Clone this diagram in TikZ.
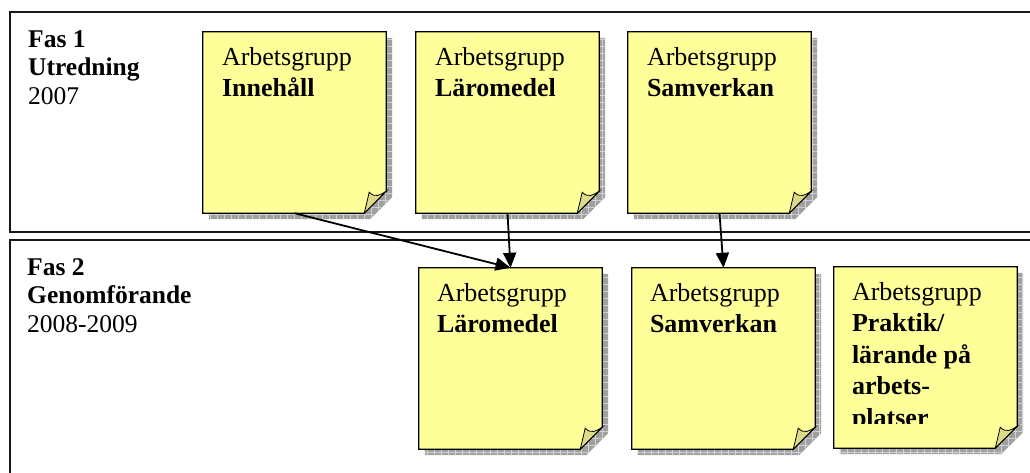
\documentclass[tikz,border=0pt]{standalone}
\usepackage{fontspec}
\setmainfont{Liberation Serif}
\usetikzlibrary{calc,arrows.meta,patterns.meta}
\definecolor{noteyellow}{RGB}{255,255,153}
\definecolor{flapcol}{RGB}{221,219,137}
\definecolor{shadowcol}{RGB}{160,160,160}
\definecolor{gridcol}{RGB}{210,210,210}
\tikzset{
  phasebox/.style={draw=black!90, line width=2pt},
  phasetext/.style={anchor=north west, inner sep=0pt, align=left, font=\fontsize{25.5}{28.5}\selectfont},
  notearea/.style={rectangle, minimum width=183pt, minimum height=181pt, inner sep=0pt, draw=none},
  notebody/.style={draw=black, fill=noteyellow, line width=1.2pt, line join=miter},
  noteflap/.style={draw=black, fill=flapcol, line width=0.8pt},
  shadowfill/.style={fill=shadowcol},
  shadowgrid/.style={pattern={Hatch[angle=0,distance=7pt,line width=0.8pt]}, pattern color=gridcol},
  notetext/.style={anchor=north west, inner sep=0pt, align=left, font=\fontsize{26}{31.5}\selectfont},
  conn/.style={draw=black, line width=1.8pt, -{Triangle[length=15pt,width=13pt]}}
}
\newcommand\shadowshape[1]{let \p1=(#1.north west), \p2=(#1.south east) in
  (\x1+6pt,\y1-6pt) -- (\x2+6pt,\y1-6pt) -- (\x2+6pt,\y2+16pt) -- (\x2-16pt,\y2-6pt) -- (\x1+6pt,\y2-6pt) -- cycle}
\newcommand\stickynote[1]{%
  \path[shadowfill] \shadowshape{#1};
  \path[shadowgrid] \shadowshape{#1};
  \path[notebody] let \p1=(#1.north west), \p2=(#1.south east) in
    (\x1,\y1) -- (\x2,\y1) -- (\x2,\y2+22pt) -- (\x2-22pt,\y2) -- (\x1,\y2) -- cycle;
  \path[noteflap] let \p2=(#1.south east) in
    (\x2-22pt,\y2) .. controls (\x2-20pt,\y2+8pt) .. (\x2-17pt,\y2+21pt)
    .. controls (\x2-11pt,\y2+15pt) and (\x2-6pt,\y2+18pt) .. (\x2,\y2+22pt) -- cycle;
}
\begin{document}
\begin{tikzpicture}[x=1pt,y=-1pt]
\useasboundingbox (0,0) rectangle (1030,473);
\clip (0,0) rectangle (1030,473);
% phase boxes
\draw[phasebox] (10,12) rectangle (1045,232);
\draw[phasebox] (10,240) rectangle (1045,490);
\node[phasetext] (f1) at (28,27) {\strut\textbf{Fas 1}\\\textbf{Utredning}\\2007};
\node[phasetext] (f2) at (27,255) {\strut\textbf{Fas 2}\\\textbf{Genomförande}\\2008-2009};
% note areas
\node[notearea] (n1) at (294.5,122.5) {};
\node[notearea] (n2) at (507.5,122.5) {};
\node[notearea] (n3) at (719.5,122.5) {};
\node[notearea] (n4) at (510.5,358.5) {};
\node[notearea] (n5) at (723.5,358.5) {};
\node[notearea] (n6) at (925.5,357.5) {};
\stickynote{n1}
\stickynote{n2}
\stickynote{n3}
\stickynote{n4}
\stickynote{n5}
\stickynote{n6}
% texts
\node[notetext] (t1) at ($(n1.north west)+(19,11)$) {\strut Arbetsgrupp\\\textbf{Innehåll}};
\node[notetext] (t2) at ($(n2.north west)+(19,11)$) {\strut Arbetsgrupp\\\textbf{Läromedel}};
\node[notetext] (t3) at ($(n3.north west)+(19,11)$) {\strut Arbetsgrupp\\\textbf{Samverkan}};
\node[notetext] (t4) at ($(n4.north west)+(18,11)$) {\strut Arbetsgrupp\\\textbf{Läromedel}};
\node[notetext] (t5) at ($(n5.north west)+(18,11)$) {\strut Arbetsgrupp\\\textbf{Samverkan}};
\begin{scope}
  \clip ($(n6.north west)$) rectangle ($(n6.north east)+(0,157)$);
  \node[notetext] (t6) at ($(n6.north west)+(18,11)$) {\strut Arbetsgrupp\\\textbf{Praktik/}\\\textbf{lärande på}\\\textbf{arbets-}\\\textbf{platser}};
\end{scope}
% connectors
\draw[conn] (n1.south) -- (n4.north);
\draw[conn] (n2.south) -- (n4.north);
\draw[conn] (n3.south) -- (n5.north);
\end{tikzpicture}
\end{document}
